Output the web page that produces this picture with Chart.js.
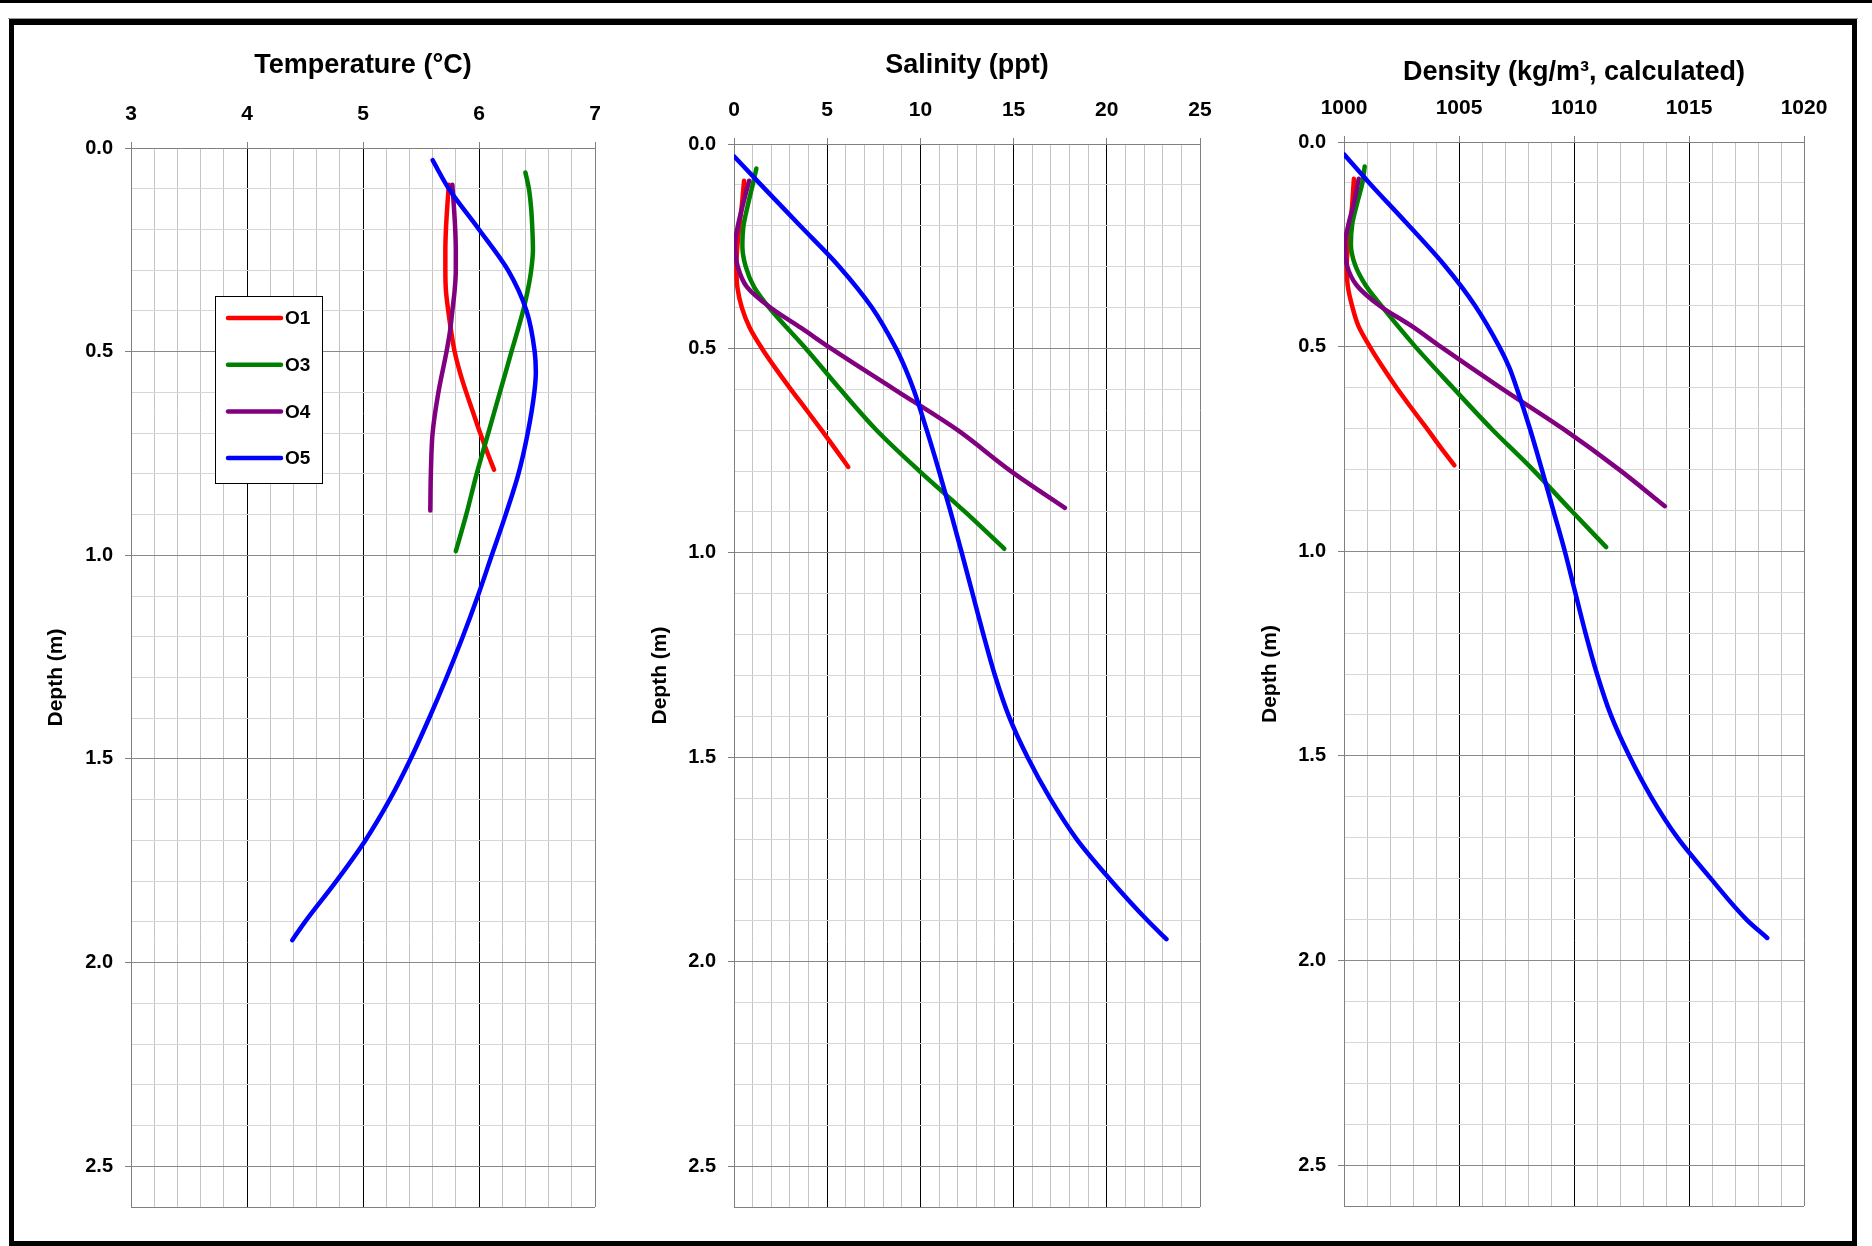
<!DOCTYPE html>
<html>
<head>
<meta charset="utf-8">
<script src="https://cdn.jsdelivr.net/npm/chart.js@4/dist/chart.umd.min.js"></script>
<style>
html,body{margin:0;padding:0;background:#fff;}
#page{position:relative;width:1872px;height:1246px;overflow:hidden;background:#fff;}
#topline{position:absolute;left:0;top:0;width:1872px;height:3px;background:#000;}
#frameShadow{position:absolute;left:8px;top:18px;width:1850px;height:1px;background:#9a9a9a;}
#frame{position:absolute;left:9px;top:19px;width:1848px;height:1227px;box-sizing:border-box;border:5px solid #000;border-top-width:6px;}
canvas{position:absolute;left:0;top:0;}
</style>
</head>
<body>
<div id="page">
  <div id="topline"></div>
  <div id="frameShadow"></div>
  <div id="frame"></div>
  <canvas id="cTemp" width="1872" height="1246"></canvas>
  <canvas id="cSal" width="1872" height="1246"></canvas>
  <canvas id="cDens" width="1872" height="1246"></canvas>
</div>
<script>
// ---------------- DATA ----------------
const seriesNames = ['O1', 'O3', 'O4', 'O5'];

const depthO1 = [0.09, 0.15, 0.2, 0.25, 0.3, 0.35, 0.4, 0.45, 0.5, 0.55, 0.6, 0.65, 0.7, 0.75, 0.79];
const tempO1  = [5.74, 5.725, 5.715, 5.71, 5.71, 5.715, 5.735, 5.76, 5.79, 5.835, 5.89, 5.95, 6.01, 6.075, 6.13];
const salO1   = [0.54, 0.42, 0.29, 0.18, 0.13, 0.18, 0.42, 0.85, 1.5, 2.25, 3.05, 3.88, 4.7, 5.5, 6.13];
const densO1  = [1000.43, 1000.36, 1000.28, 1000.18, 1000.12, 1000.16, 1000.35, 1000.63, 1001.12, 1001.68, 1002.28, 1002.93, 1003.6, 1004.25, 1004.8];

const depthO3 = [0.06, 0.1, 0.15, 0.2, 0.25, 0.3, 0.35, 0.4, 0.5, 0.6, 0.7, 0.8, 0.9, 0.99];
const tempO3  = [6.40, 6.43, 6.45, 6.46, 6.465, 6.45, 6.42, 6.38, 6.28, 6.18, 6.08, 5.98, 5.89, 5.80];
const salO3   = [1.2, 1.0, 0.74, 0.51, 0.45, 0.63, 1.08, 1.88, 3.85, 5.7, 7.65, 9.95, 12.4, 14.5];
const densO3  = [1000.9, 1000.8, 1000.57, 1000.36, 1000.3, 1000.48, 1000.94, 1001.62, 1003.1, 1004.73, 1006.4, 1008.2, 1009.87, 1011.4];

const depthO4 = [0.09, 0.15, 0.2, 0.25, 0.3, 0.35, 0.4, 0.45, 0.5, 0.6, 0.7, 0.8, 0.89];
const tempO4  = [5.77, 5.785, 5.795, 5.80, 5.80, 5.79, 5.77, 5.75, 5.72, 5.65, 5.60, 5.585, 5.58];
const salO4   = [0.81, 0.47, 0.21, 0.05, 0.2, 0.7, 1.95, 3.6, 5.2, 8.6, 12.0, 14.85, 17.75];
const densO4  = [1000.64, 1000.43, 1000.2, 1000.04, 1000.12, 1000.55, 1001.55, 1002.95, 1004.2, 1006.8, 1009.5, 1011.95, 1013.95];

const depthO5 = [0.03, 0.1, 0.2, 0.3, 0.4, 0.5, 0.55, 0.6, 0.7, 0.8, 0.9, 1.0, 1.1, 1.2, 1.3, 1.4, 1.5, 1.6, 1.7, 1.8, 1.9, 1.945];
const tempO5  = [5.60, 5.74, 6.00, 6.25, 6.41, 6.48, 6.49, 6.477, 6.42, 6.34, 6.23, 6.11, 5.99, 5.86, 5.72, 5.57, 5.41, 5.23, 5.02, 4.77, 4.50, 4.39];
const salO5   = [0.0, 1.45, 3.55, 5.65, 7.4, 8.69, 9.2, 9.63, 10.34, 11.0, 11.62, 12.22, 12.8, 13.38, 14.0, 14.75, 15.75, 16.95, 18.38, 20.2, 22.2, 23.2];
const densO5  = [1000.0, 1001.1, 1002.75, 1004.35, 1005.7, 1006.75, 1007.18, 1007.5, 1008.08, 1008.6, 1009.1, 1009.6, 1010.05, 1010.5, 1011.0, 1011.6, 1012.4, 1013.35, 1014.5, 1015.95, 1017.5, 1018.4];

// axis ranges / tick steps
const depthRange = [0, 2.6];
const depthMinorStep = 0.1, depthMajorStep = 0.5;
const tempRange = [3, 7];  const tempMinorStep = 0.2; const tempMajorStep = 1;
const salRange = [0, 25];  const salMinorStep = 1;    const salMajorStep = 5;
const densRange = [1000, 1020]; const densMinorStep = 1; const densMajorStep = 5;

const chartTitles = ['Temperature (°C)', 'Salinity (ppt)', 'Density (kg/m\u00B3, calculated)'];
const depthTitle = 'Depth (m)';

// ---------------- STYLE ----------------
const seriesColors = ['#ff0000', '#008000', '#800080', '#0000ff'];
Chart.defaults.font.family = '"Liberation Sans", Arial, Helvetica, sans-serif';
Chart.defaults.color = '#000';

function isMultiple(v, step) { const r = v / step; return Math.abs(r - Math.round(r)) < 1e-6; }

function buildDatasets(depths, values) {
  return seriesNames.map((name, i) => ({
    label: name,
    data: depths[i].map((d, k) => ({ x: values[i][k], y: d })),
    showLine: true,
    borderColor: seriesColors[i],
    backgroundColor: seriesColors[i],
    borderWidth: 4.5,
    pointRadius: 0,
    pointHoverRadius: 0,
    cubicInterpolationMode: 'monotone',
    borderCapStyle: 'round',
    borderJoinStyle: 'round',
    fill: false,
    order: seriesNames.length - 1 - i
  }));
}

const legendBoxPlugin = {
  id: 'legendBox',
  afterDraw(chart, args, opts) {
    if (!opts || !opts.show) return;
    const ctx = chart.ctx, ca = chart.chartArea;
    const x = ca.left + 84, y = ca.top + 148, w = 107, h = 187;
    ctx.save();
    ctx.fillStyle = '#fff';
    ctx.fillRect(x, y, w, h);
    ctx.strokeStyle = '#000';
    ctx.lineWidth = 1;
    ctx.strokeRect(x + 0.5, y + 0.5, w, h);
    const items = chart.data.datasets;
    items.forEach((dsi, i) => {
      const ly = y + 22 + i * 46.7;
      ctx.strokeStyle = dsi.borderColor;
      ctx.lineWidth = 4.5;
      ctx.lineCap = 'round';
      ctx.beginPath();
      ctx.moveTo(x + 13, ly);
      ctx.lineTo(x + 66, ly);
      ctx.stroke();
      ctx.fillStyle = '#000';
      ctx.font = 'bold 19px "Liberation Sans", Arial, sans-serif';
      ctx.textBaseline = 'middle';
      ctx.textAlign = 'left';
      ctx.fillText(dsi.label, x + 70, ly + 1);
    });
    ctx.restore();
  }
};

function makeChart(id, cfg) {
  const [xMin, xMax] = cfg.xRange;
  const [yMin, yMax] = depthRange;
  return new Chart(document.getElementById(id), {
    type: 'scatter',
    data: { datasets: cfg.datasets },
    options: {
      indexAxis: 'y',
      responsive: false,
      animation: false,
      events: [],
      layout: { padding: cfg.padding },
      plugins: {
        legend: { display: false },
        tooltip: { enabled: false },
        legendBox: { show: !!cfg.legend }
      },
      scales: {
        x: {
          type: 'linear', position: 'top', min: xMin, max: xMax,
          ticks: {
            stepSize: cfg.xMinor, autoSkip: false, maxRotation: 0, minRotation: 0,
            padding: cfg.xTickPad, color: '#000',
            font: { size: 21, weight: 'bold' },
            callback: (v) => isMultiple(v, cfg.xMajor) ? String(Math.round(v)) : ''
          },
          grid: {
            lineWidth: 1, tickLength: 6, drawTicks: true,
            color: (c) => {
              const v = c.tick ? c.tick.value : 0;
              if (Math.abs(v - xMin) < 1e-6 || Math.abs(v - xMax) < 1e-6) return '#808080';
              return isMultiple(v, cfg.xMajor) ? '#000000' : '#c4c4c4';
            },
            tickColor: (c) => {
              const v = c.tick ? c.tick.value : 0;
              return isMultiple(v, cfg.xMajor) ? '#808080' : 'rgba(0,0,0,0)';
            }
          },
          border: { display: true, color: '#808080', width: 1 },
          title: {
            display: true, text: cfg.title, color: '#000',
            font: { size: 27, weight: 'bold' },
            padding: { top: cfg.titlePad, bottom: 0 }
          },
          afterFit: (s) => { s.height = cfg.xAxisH; }
        },
        y: {
          type: 'linear', position: 'left', reverse: true, min: yMin, max: yMax,
          ticks: {
            stepSize: depthMinorStep, autoSkip: false, padding: 12, color: '#000',
            font: { size: 20, weight: 'bold' },
            callback: (v) => isMultiple(v, depthMajorStep) ? Number(v).toFixed(1) : ''
          },
          grid: {
            lineWidth: 1, tickLength: 6, drawTicks: true,
            color: (c) => {
              const v = c.tick ? c.tick.value : 0;
              if (Math.abs(v - yMin) < 1e-6 || Math.abs(v - yMax) < 1e-6) return '#808080';
              return isMultiple(v, depthMajorStep) ? '#8a8a8a' : '#d6d6d6';
            },
            tickColor: (c) => {
              const v = c.tick ? c.tick.value : 0;
              return isMultiple(v, depthMajorStep) ? '#808080' : 'rgba(0,0,0,0)';
            }
          },
          border: { display: true, color: '#808080', width: 1 },
          title: {
            display: true, text: depthTitle, color: '#000',
            font: { size: 21, weight: 'bold' },
            padding: { top: 4, bottom: 0 }
          },
          afterFit: (s) => { s.width = cfg.yAxisW; }
        }
      }
    },
    plugins: [legendBoxPlugin]
  });
}

const depthsAll = [depthO1, depthO3, depthO4, depthO5];

makeChart('cTemp', {
  datasets: buildDatasets(depthsAll, [tempO1, tempO3, tempO4, tempO5]),
  xRange: tempRange, xMinor: tempMinorStep, xMajor: tempMajorStep,
  title: chartTitles[0], titlePad: 29, xTickPad: 15, xAxisH: 128, yAxisW: 91,
  padding: { left: 40, top: 20, right: 1277, bottom: 39 },
  legend: true
});

makeChart('cSal', {
  datasets: buildDatasets(depthsAll, [salO1, salO3, salO4, salO5]),
  xRange: salRange, xMinor: salMinorStep, xMajor: salMajorStep,
  title: chartTitles[1], titlePad: 29, xTickPad: 15, xAxisH: 124, yAxisW: 90,
  padding: { left: 644, top: 20, right: 672, bottom: 39 },
  legend: false
});

makeChart('cDens', {
  datasets: buildDatasets(depthsAll, [densO1, densO3, densO4, densO5]),
  xRange: densRange, xMinor: densMinorStep, xMajor: densMajorStep,
  title: chartTitles[2], titlePad: 36, xTickPad: 15, xAxisH: 122, yAxisW: 90,
  padding: { left: 1254, top: 20, right: 68, bottom: 40 },
  legend: false
});
</script>
</body>
</html>
